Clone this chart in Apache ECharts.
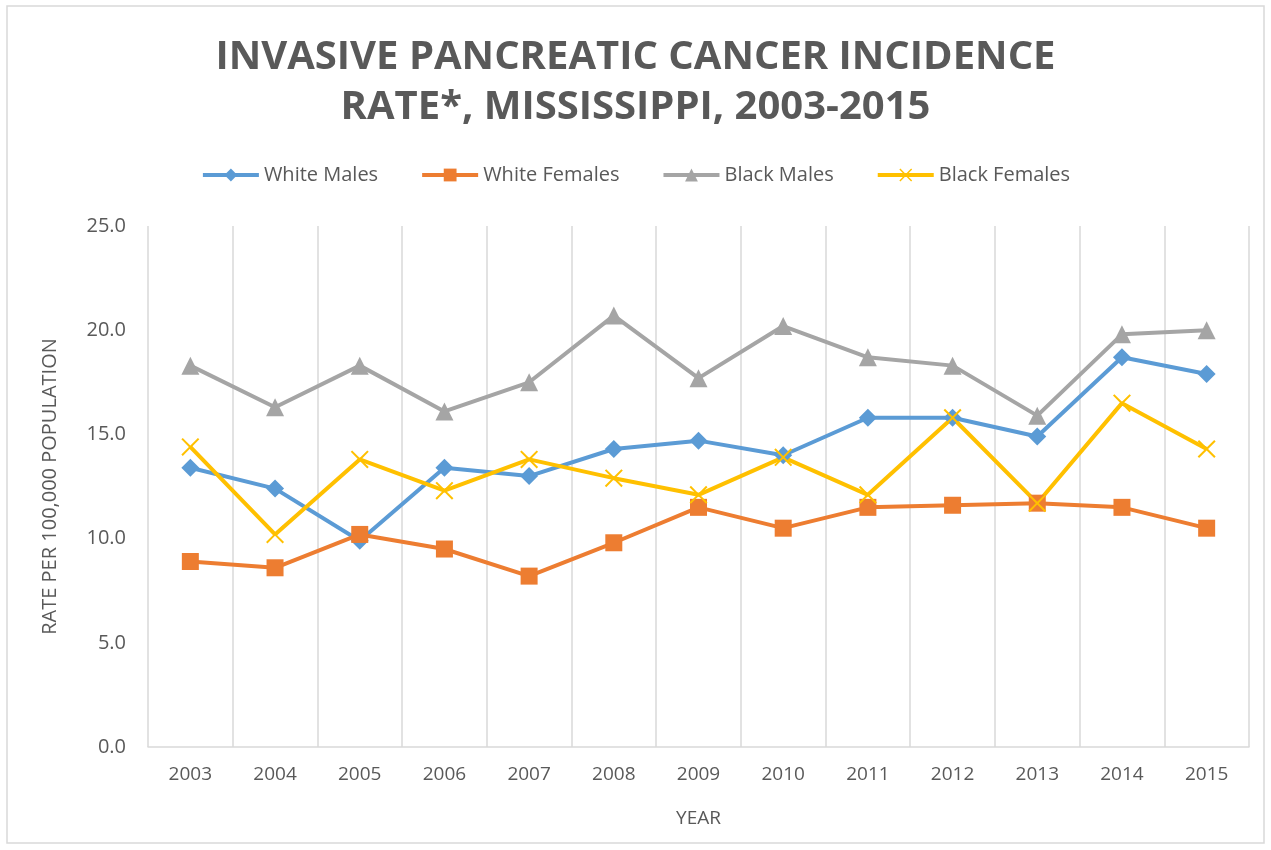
<!DOCTYPE html>
<html><head><meta charset="utf-8">
<script src="https://cdn.jsdelivr.net/npm/echarts@6/dist/echarts.min.js"></script>
<style>html,body{margin:0;padding:0;background:#fff}#c{width:1271px;height:850px}</style>
</head><body><div id="c"></div>
<script>
const years = ['2003','2004','2005','2006','2007','2008','2009','2010','2011','2012','2013','2014','2015'];
const whiteMales   = [13.4,12.4,9.9,13.4,13.0,14.3,14.7,14.0,15.8,15.8,14.9,18.7,17.9];
const whiteFemales = [8.9,8.6,10.2,9.5,8.2,9.8,11.5,10.5,11.5,11.6,11.7,11.5,10.5];
const blackMales   = [18.3,16.3,18.3,16.1,17.5,20.7,17.7,20.2,18.7,18.3,15.9,19.8,20.0];
const blackFemales = [14.4,10.2,13.8,12.3,13.8,12.9,12.1,13.9,12.1,15.8,11.7,16.5,14.3];
const yTicks = [0,5,10,15,20,25];

const xPath = 'path://M0,1.6 L1.6,0 L10,8.4 L18.4,0 L20,1.6 L11.6,10 L20,18.4 L18.4,20 L10,11.6 L1.6,20 L0,18.4 L8.4,10 Z';
const font = '"Open Sans", sans-serif';
const txt = '#595959';

function s(name, data, color, symbol, size){
  return {name, type:'line', data, symbol, symbolSize:size, showSymbol:true,
    lineStyle:{color, width:4}, itemStyle:{color}, z: 2};
}

const chart = echarts.init(document.getElementById('c'));
chart.setOption({
  animation:false,
  backgroundColor:'#fff',
  graphic:[{type:'rect', shape:{x:7, y:6, width:1257, height:837}, style:{fill:'none', stroke:'#D9D9D9', lineWidth:1.5}, silent:true}],
  title:{
    text:'INVASIVE PANCREATIC CANCER INCIDENCE\nRATE*, MISSISSIPPI, 2003-2015',
    left:'center', top:28,
    textStyle:{fontFamily:font, fontWeight:'bold', fontSize:40, color:txt, lineHeight:50}
  },
  legend:{
    top:160, left:'center', itemWidth:56, itemHeight:16, itemGap:42,
    lineStyle:{width:4},
    textStyle:{fontFamily:font, fontSize:20, color:txt},
    data:['White Males','White Females','Black Males','Black Females']
  },
  grid:{left:148, right:22, top:226, bottom:103},
  xAxis:{
    type:'category', data:years, boundaryGap:true,
    name:'YEAR', nameLocation:'middle', nameGap:62,
    nameTextStyle:{fontFamily:font, fontSize:19, color:txt},
    axisLine:{lineStyle:{color:'#D9D9D9', width:1.5}},
    axisTick:{show:false},
    axisLabel:{fontFamily:font, fontSize:19, color:txt, margin:18},
    splitLine:{show:true, lineStyle:{color:'#D9D9D9', width:1.5}}
  },
  yAxis:{
    type:'value', min:0, max:25, interval:5,
    name:'RATE PER 100,000 POPULATION', nameLocation:'middle', nameGap:88,
    nameTextStyle:{fontFamily:font, fontSize:20, color:txt},
    axisLine:{show:false}, axisTick:{show:false},
    axisLabel:{fontFamily:font, fontSize:20, color:txt, margin:22, formatter:v=>v.toFixed(1)},
    splitLine:{show:false}
  },
  series:[
    s('White Males', whiteMales, '#5B9BD5', 'diamond', 18),
    s('White Females', whiteFemales, '#ED7D31', 'rect', 17),
    s('Black Males', blackMales, '#A5A5A5', 'triangle', 18),
    s('Black Females', blackFemales, '#FFC000', xPath, 18)
  ]
});
</script></body></html>
